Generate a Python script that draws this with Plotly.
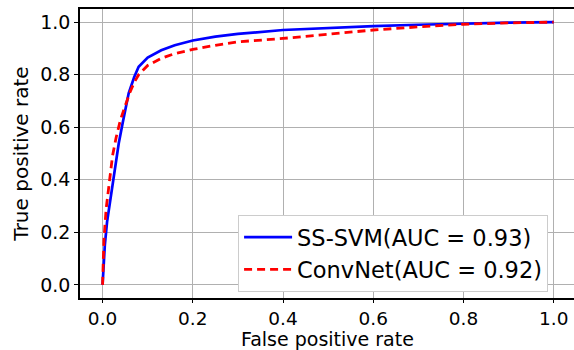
import plotly.graph_objects as go

svm_fpr = [0, 0.005, 0.01, 0.018, 0.027, 0.036, 0.045, 0.058, 0.07, 0.08, 0.1, 0.13, 0.16, 0.2, 0.25, 0.3, 0.4, 0.5, 0.6, 0.7, 0.8, 0.9, 1.0]
svm_tpr = [0, 0.15, 0.24, 0.33, 0.44, 0.54, 0.62, 0.73, 0.79, 0.83, 0.865, 0.893, 0.912, 0.93, 0.945, 0.955, 0.970, 0.978, 0.985, 0.99, 0.995, 0.998, 1.0]
cnn_fpr = [0, 0.003, 0.008, 0.015, 0.022, 0.03, 0.04, 0.05, 0.06, 0.07, 0.08, 0.1, 0.13, 0.16, 0.2, 0.25, 0.3, 0.4, 0.5, 0.6, 0.7, 0.8, 0.9, 1.0]
cnn_tpr = [0, 0.17, 0.29, 0.40, 0.49, 0.56, 0.63, 0.68, 0.73, 0.77, 0.80, 0.835, 0.862, 0.88, 0.896, 0.912, 0.925, 0.938, 0.955, 0.97, 0.982, 0.992, 0.997, 1.0]
names = ["SS-SVM(AUC = 0.93)", "ConvNet(AUC = 0.92)"]
ticks = [0.0, 0.2, 0.4, 0.6, 0.8, 1.0]
tick_text = ["0.0", "0.2", "0.4", "0.6", "0.8", "1.0"]
x_title = "False positive rate"
y_title = "True positive rate"

fig = go.Figure()
fig.add_trace(go.Scatter(x=svm_fpr, y=svm_tpr, mode="lines", name=names[0],
                         line=dict(color="#0000ff", width=2.7)))
fig.add_trace(go.Scatter(x=cnn_fpr, y=cnn_tpr, mode="lines", name=names[1],
                         line=dict(color="#ff0000", width=2.8, dash="8px,5px")))

font = "DejaVu Sans, Arial, sans-serif"
fig.update_layout(
    width=574, height=350,
    margin=dict(l=80, r=0, t=9, b=52),
    paper_bgcolor="white", plot_bgcolor="white",
    font=dict(family=font, size=19, color="black"),
    showlegend=True,
    legend=dict(x=0.32, y=0.287, xanchor="left", yanchor="top",
                bgcolor="white", bordercolor="#cccccc", borderwidth=1,
                font=dict(size=22.5), itemwidth=48, tracegroupgap=0),
    xaxis=dict(range=[-0.05, 1.045], tickvals=ticks, ticktext=tick_text,
               automargin=False,
               showgrid=True, gridcolor="#b0b0b0", gridwidth=1,
               showline=True, linecolor="black", linewidth=1.5, mirror=True,
               ticks="outside", ticklen=3, tickcolor="black",
               tickfont=dict(size=18.5),
               zeroline=False),
    yaxis=dict(range=[-0.05, 1.05], tickvals=ticks, ticktext=tick_text,
               automargin=False,
               showgrid=True, gridcolor="#b0b0b0", gridwidth=1,
               showline=True, linecolor="black", linewidth=1.5, mirror=True,
               ticks="outside", ticklen=4, tickcolor="black",
               tickfont=dict(size=19),
               zeroline=False,
               title=dict(text=y_title, font=dict(size=20), standoff=6)),
    annotations=[dict(text=x_title, xref="paper", yref="paper", x=0.5, y=0,
                      xanchor="center", yanchor="middle", yshift=-40.5,
                      showarrow=False, font=dict(size=19))],
)

fig.write_html("out.html", config={"displayModeBar": False},
               post_script="document.body.style.margin='0';")
